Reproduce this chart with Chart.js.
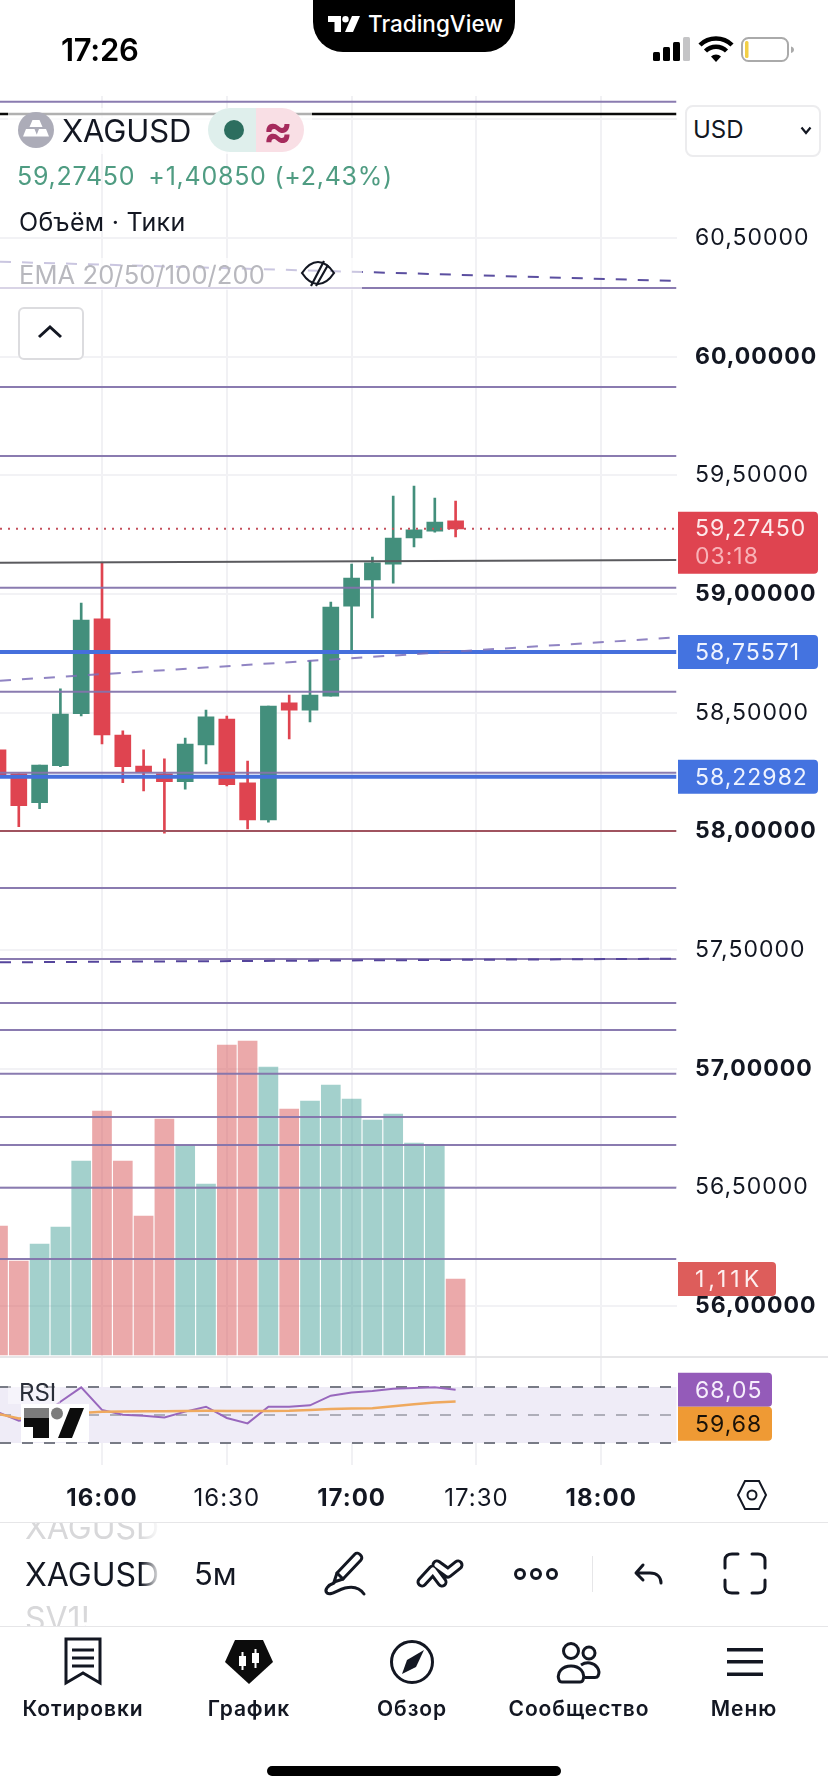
<!DOCTYPE html>
<html lang="ru">
<head>
<meta charset="utf-8">
<title>XAGUSD 5м</title>
<script src="https://cdn.jsdelivr.net/npm/chart.js@4"></script>
<style>
  html,body{margin:0;padding:0;background:#fff;width:828px;height:1792px;overflow:hidden;font-family:Inter,"Noto Sans",sans-serif;color:#131722}
  #wrap{position:relative;width:828px;height:1792px;overflow:hidden}
  canvas{position:absolute;left:0;top:0}
  .t{position:absolute;white-space:nowrap;line-height:1}
  .c{transform:translateX(-50%)}
  .box{position:absolute}
  svg{position:absolute;overflow:visible}
  .tab{font-size:21px;font-weight:600;letter-spacing:.9px;top:1698px;color:#131722}
</style>
</head>
<body>
<div id="wrap">
  <canvas id="chart" width="828" height="1792"></canvas>

  <!-- status bar -->
  <div class="t" style="left:61px;top:34px;font-size:31px;font-weight:600;letter-spacing:-.3px;color:#000">17:26</div>
  <div class="box" style="left:313px;top:-20px;width:202px;height:72px;background:#000;border-radius:0 0 30px 30px"></div>
  <svg style="left:328px;top:16px" width="32" height="16" viewBox="0 0 32 16">
    <path d="M0 0h13v16H6.5V6H0z" fill="#fff"/><circle cx="17.5" cy="3.2" r="3.2" fill="#fff"/><path d="M24 0h8l-7 16h-8z" fill="#fff"/>
  </svg>
  <div class="t" style="left:368px;top:13px;font-size:22.5px;font-weight:500;color:#fff">TradingView</div>
  <svg style="left:653px;top:37px" width="142" height="26" viewBox="0 0 142 26">
    <rect x="0" y="15" width="7" height="9" rx="1.5" fill="#000"/>
    <rect x="10" y="10" width="7" height="14" rx="1.5" fill="#000"/>
    <rect x="20" y="5" width="7" height="19" rx="1.5" fill="#000"/>
    <rect x="30" y="0" width="7" height="24" rx="1.5" fill="#c4c4c6"/>
    <path d="M47 8a23 23 0 0 1 32 0" fill="none" stroke="#000" stroke-width="4.5"/>
    <path d="M52.500 14a15 15 0 0 1 21 0" fill="none" stroke="#000" stroke-width="4.500"/>
    <path d="M58 19.500a7 7 0 0 1 10 0L63 25z" fill="#000"/>
    <rect x="89" y="1" width="46" height="23" rx="6.500" fill="#fff" stroke="#aaa" stroke-width="2"/>
    <rect x="92" y="4" width="3.500" height="17" rx="1.500" fill="#f2cf47"/>
    <path d="M138 9.500c2 .6 3 1.800 3 3.200s-1 2.600-3 3.200z" fill="#aaa"/>
  </svg>

  <!-- symbol legend over the price pane -->
  <div class="box" style="left:8px;top:108px;width:304px;height:46px;background:rgba(255,255,255,.68)"></div>
  <svg style="left:18px;top:112px" width="36" height="36" viewBox="0 0 36 36">
    <circle cx="18" cy="18" r="18" fill="#acacb8"/>
    <path d="M14.500 8h7l3 7h-13zM8 17h8.500l3 7.500H5zM21 17h7l3 7.500H18z" fill="#fff"/>
  </svg>
  <div class="t" style="left:62px;top:115px;font-size:31px;font-weight:400;letter-spacing:-.1px">XAGUSD</div>
  <div class="box" style="left:208px;top:108px;width:48px;height:44px;background:#dfefec;border-radius:22px 0 0 22px"></div>
  <div class="box" style="left:256px;top:108px;width:48px;height:44px;background:#f9dfe5;border-radius:0 22px 22px 0"></div>
  <div class="box" style="left:224px;top:120px;width:20px;height:20px;background:#2c6e5f;border-radius:50%"></div>
  <div class="t c" style="left:278px;top:108px;font-size:44px;font-weight:700;color:#a62a5c">≈</div>
  <div class="t" style="left:17px;top:164px;font-size:25px;letter-spacing:.75px;color:#4f9c82"><span>59,27450</span><span style="margin-left:13px">+1,40850 (+2,43%)</span></div>
  <div class="t" style="left:19px;top:210px;font-size:25px;letter-spacing:.3px">Объём · Тики</div>
  <div class="box" style="left:0;top:258px;width:362px;height:32px;background:rgba(255,255,255,.68)"></div>
  <div class="t" style="left:19px;top:262px;font-size:25.5px;letter-spacing:.1px;color:#b8b8be">EMA 20/50/100/200</div>
  <svg style="left:300px;top:258px" width="36" height="30" viewBox="0 0 36 30" fill="none" stroke="#131722" stroke-width="2.200">
    <path d="M2 15C8 6 14 4 18 4s10 2 16 11c-6 9-12 11-16 11S8 24 2 15z"/>
    <path d="M24 3L11 28M28 7L16 28"/>
  </svg>
  <div class="box" style="left:18px;top:307px;width:62px;height:49px;border:2px solid #dcdcdf;border-radius:6px;background:#fff"></div>
  <svg style="left:36px;top:324px" width="28" height="16" viewBox="0 0 28 16"><path d="M3 13L14 3l11 10" fill="none" stroke="#131722" stroke-width="3"/></svg>

  <!-- currency selector -->
  <div class="box" style="left:685px;top:105px;width:132px;height:48px;border:2px solid #ececee;border-radius:8px;background:#fff"></div>
  <div class="t" style="left:693px;top:118px;font-size:24px">USD</div>
  <svg style="left:800px;top:126px" width="12" height="9" viewBox="0 0 12 9"><path d="M1.500 1.500L6 7l4.500-5.500" fill="none" stroke="#131722" stroke-width="2.200"/></svg>

  <!-- pane divider, RSI caption and watermark -->
  <div class="box" style="left:0;top:1356px;width:828px;height:2px;background:#e6e6e8"></div>
  <div class="box" style="left:8px;top:1380px;width:52px;height:24px;background:rgba(255,255,255,.45)"></div>
  <div class="t" style="left:19px;top:1381px;font-size:24px;color:#2a2e39">RSI</div>
  <div class="box" style="left:21px;top:1404px;width:68px;height:38px;background:#fff"></div>
  <svg style="left:24px;top:1408px" width="60" height="30" viewBox="0 0 60 30">
    <rect x="0" y="0" width="25" height="10" fill="#7c7c7c"/>
    <path d="M0 10h25v20H9V19H0z" fill="#0c0c0c"/>
    <circle cx="33" cy="5.500" r="6" fill="#7c7c7c"/>
    <path d="M46 0h14L48 30H34z" fill="#0c0c0c"/>
  </svg>

  <!-- time axis settings -->
  <svg style="left:737px;top:1479px" width="30" height="32" viewBox="0 0 30 32" fill="none" stroke="#131722" stroke-width="2">
    <path d="M8 2h14l7 14-7 14H8L1 16z"/><circle cx="15" cy="16" r="4.500"/>
  </svg>
  <div class="box" style="left:0;top:1522px;width:828px;height:1px;background:#e6e6e8"></div>

  <!-- symbol toolbar -->
  <div class="box" style="left:25px;top:1523px;width:136px;height:103px;overflow:hidden;-webkit-mask-image:linear-gradient(to right,#000 85%,transparent);mask-image:linear-gradient(to right,#000 85%,transparent)">
    <div class="t" style="left:0;top:-11px;font-size:32px;color:#d8d8da">XAGUSD</div>
    <div class="t" style="left:0;top:36px;font-size:32px;color:#131722">XAGUSD</div>
    <div class="t" style="left:0;top:80px;font-size:32px;color:#d8d8da">SV1!</div>
  </div>
  <div class="t" style="left:194px;top:1558px;font-size:31px;color:#131722">5м</div>
  <svg style="left:290px;top:1530px" width="480" height="72" viewBox="0 0 480 72" fill="none" stroke="#131722" stroke-width="3" stroke-linecap="round" stroke-linejoin="round">
    <path d="M44 52L47 43 65 24C68 21 74 27 71 30L53 49Z"/>
    <path d="M47 43l6 6"/>
    <path d="M44 53C38 55 34 60 37 63 41 66 47 60 55 58 63 56 70 58 74 64"/>
    <g stroke-width="11"><path d="M132 52l11-12 9 12M147 35l11 8 10-8"/></g>
    <g stroke="#fff" stroke-width="5"><path d="M132 52l11-12 9 12M147 35l11 8 10-8"/></g>
    <circle cx="230" cy="44" r="4.500"/><circle cx="246" cy="44" r="4.500"/><circle cx="262" cy="44" r="4.500"/>
    <path d="M353 35l-7 8 7 7M347 43H360C367 43 371 47 371 53"/>
    <path d="M435 38V30C435 26 438 24 442 24H448M462 24H468C472 24 475 26 475 30V38M475 50V57C475 61 472 63 468 63H462M448 63H442C438 63 435 61 435 57V50"/>
  </svg>
  <div class="box" style="left:592px;top:1556px;width:1px;height:36px;background:#e6e6e8"></div>
  <div class="box" style="left:0;top:1626px;width:828px;height:1px;background:#e6e6e8"></div>

  <!-- tab bar -->
  <svg style="left:63px;top:1637px" width="40" height="48" viewBox="0 0 40 48" fill="none" stroke="#131722" stroke-width="3">
    <path d="M3 2h34v44L20 36 3 46z"/><path d="M9 13h22M9 21h22M9 29h22"/>
  </svg>
  <svg style="left:225px;top:1640px" width="48" height="44" viewBox="0 0 48 44">
    <path d="M10 0h28l10 22-24 22L0 22z" fill="#0c0c0c"/>
    <g fill="#fff"><rect x="14" y="16" width="7" height="10"/><rect x="16.500" y="12" width="2" height="18"/><rect x="27" y="13" width="7" height="10"/><rect x="29.500" y="9" width="2" height="19"/></g>
  </svg>
  <svg style="left:390px;top:1640px" width="44" height="44" viewBox="0 0 44 44">
    <circle cx="22" cy="22" r="20.500" fill="none" stroke="#131722" stroke-width="3"/>
    <path d="M34 10L26 27 12 34 17 20z" fill="#131722"/>
  </svg>
  <svg style="left:556px;top:1642px" width="46" height="42" viewBox="0 0 46 42" fill="none" stroke="#131722" stroke-width="3">
    <circle cx="15" cy="9" r="7.500"/><circle cx="33" cy="11" r="6"/>
    <path d="M3 38c-3-8 4-14 12-14s15 6 12 14c-.5 1.500-2 2-3 2H6c-1 0-2.500-.5-3-2z"/>
    <path d="M25 23c3-2 6-2.500 9-2 6 1 11 7 8 13-.5 1-1.500 1.500-3 1.500H29"/>
  </svg>
  <svg style="left:727px;top:1648px" width="36" height="28" viewBox="0 0 36 28" fill="#131722">
    <rect x="0" y="0" width="36" height="3.500"/><rect x="0" y="12" width="36" height="3.500"/><rect x="0" y="24.500" width="36" height="3.500"/>
  </svg>
  <div class="t tab c" style="left:83px">Котировки</div>
  <div class="t tab c" style="left:249px">График</div>
  <div class="t tab c" style="left:412px">Обзор</div>
  <div class="t tab c" style="left:579px">Сообщество</div>
  <div class="t tab c" style="left:744px">Меню</div>
  <div class="box" style="left:267px;top:1766px;width:294px;height:10px;background:#000;border-radius:5px"></div>
</div>

<script>
// Five-minute session, bar open times
const barTimes = ['15:35','15:40','15:45','15:50','15:55','16:00','16:05','16:10','16:15','16:20','16:25','16:30','16:35','16:40','16:45','16:50','16:55','17:00','17:05','17:10','17:15','17:20','17:25'];
const opens  = [58.343,58.242,58.121,58.277,58.496,58.895,58.406,58.275,58.242,58.209,58.364,58.473,58.204,58.048,58.541,58.511,58.570,58.949,59.059,59.126,59.236,59.265,59.308];
const closes = [58.237,58.108,58.279,58.494,58.890,58.406,58.272,58.250,58.209,58.368,58.482,58.197,58.048,58.528,58.511,58.574,58.945,59.067,59.131,59.236,59.270,59.303,59.2745];
const highs  = [58.343,58.242,58.279,58.600,58.962,59.132,58.423,58.343,58.305,58.393,58.511,58.486,58.296,58.528,58.574,58.718,58.966,59.126,59.156,59.413,59.455,59.404,59.392];
const lows   = [58.237,58.020,58.095,58.272,58.486,58.368,58.205,58.170,57.992,58.178,58.284,58.191,58.010,58.039,58.389,58.461,58.570,58.756,58.899,59.046,59.198,59.261,59.240];

// Tick volume, thousands
const volumes = [1.884,1.373,1.621,1.869,2.833,3.564,2.833,2.030,3.447,3.067,2.497,4.528,4.586,4.206,3.593,3.710,3.943,3.739,3.432,3.520,3.096,3.077,1.11];
const volumeUp = [false,false,true,true,true,false,false,false,false,true,true,false,false,true,false,true,true,true,true,true,true,true,false];

// RSI and its moving average
const rsi   = [52,46,48,59.5,69.7,53.6,50.2,49.5,48.3,52.4,55.9,47.9,44.0,55.9,55.9,56.9,63.8,66.0,67.1,68.8,69.3,69.8,68.05];
const rsiMa = [50.8,47.5,48.5,50,51.5,52.4,52.5,52.6,52.7,52.8,53.0,52.9,52.8,52.8,53.0,53.6,54.2,54.6,54.8,56.2,57.7,58.9,59.68];
const rsiLevels = [70,50,30];

// Drawn levels on the price pane
const purpleLevels = [61.0743,60.2893,59.8722,59.5815,59.0265,58.5883,58.2466,57.7612,57.4621,57.2767,57.1629,56.9788,56.7963,56.6786,56.4985,56.1981];
const blackLevel = 61.0225;
const redLevel = 58.0014;
const blueLevels = [58.75571,58.22982];
const greySlope = [59.1319,59.1432];
const emaUpper = [60.4001,60.3188];
const emaMiddle = [58.6347,58.8170];
const emaLower = [57.4481,57.4633];
const lastPrice = 59.2745;
const countdown = '03:18';

// Visible window of the scales
const timeMin = 935.48, timeMax = 1098.1;
const priceMin = 55.330, priceMax = 61.0983;
const volMin = -1.6065, volMax = 18.388;
const rsiMin = 14.29, rsiMax = 992;

const UI_FONT = 'Inter, "Noto Sans", sans-serif';
const UP = '#438f7c', DOWN = '#df4450';

const toMinutes = s => { const [h, m] = s.split(':').map(Number); return h * 60 + m; };
const span = (a, b) => [{x: timeMin, y: a}, {x: timeMax, y: b}];
const commaFixed = (v, d) => v.toFixed(d).replace('.', ',');

const levelLine = (data, color, width, order, dash) => ({
  type: 'line', data, yAxisID: 'yPrice', borderColor: color, borderWidth: width,
  borderDash: dash || [], pointRadius: 0, order, tension: 0
});

const datasets = [
  {
    type: 'bar', yAxisID: 'yVol', order: 50, grouped: false, barThickness: 19,
    data: barTimes.map((t, i) => ({x: toMinutes(t), y: volumes[i]})),
    backgroundColor: volumeUp.map(u => u ? 'rgba(71,161,153,.5)' : 'rgba(215,83,85,.5)')
  },
  {
    type: 'bar', yAxisID: 'yPrice', order: 41, grouped: false, barThickness: 2,
    data: barTimes.map((t, i) => ({x: toMinutes(t), y: [lows[i], highs[i]]})),
    backgroundColor: closes.map((c, i) => c >= opens[i] ? UP : DOWN)
  },
  {
    type: 'bar', yAxisID: 'yPrice', order: 40, grouped: false, barThickness: 16,
    data: barTimes.map((t, i) => ({x: toMinutes(t), y: [opens[i], closes[i]]})),
    backgroundColor: closes.map((c, i) => c >= opens[i] ? UP : DOWN)
  },
  ...purpleLevels.map(p => levelLine(span(p, p), 'rgba(132,116,172,.95)', 2, 12)),
  levelLine(span(blackLevel, blackLevel), '#0a0a0a', 2.5, 11),
  levelLine(span(redLevel, redLevel), '#a0535f', 2, 11),
  levelLine(span(greySlope[0], greySlope[1]), '#5a5a5e', 2, 11),
  ...blueLevels.map(p => levelLine(span(p, p), '#456fdc', 4, 10)),
  levelLine(span(emaUpper[0], emaUpper[1]), '#5b4fa0', 2, 9, [11, 11]),
  levelLine(span(emaMiddle[0], emaMiddle[1]), 'rgba(125,110,185,.85)', 2, 9, [11, 11]),
  levelLine(span(emaLower[0], emaLower[1]), '#55459c', 2, 9, [11, 11]),
  levelLine(span(lastPrice, lastPrice), '#c4505c', 2, 8, [2, 6]),
  {
    type: 'line', yAxisID: 'yRsi', order: 6, borderColor: '#efa95e', borderWidth: 2.5, pointRadius: 0, tension: 0,
    data: barTimes.map((t, i) => ({x: toMinutes(t), y: rsiMa[i]}))
  },
  {
    type: 'line', yAxisID: 'yRsi', order: 7, borderColor: '#9867bd', borderWidth: 2, pointRadius: 0, tension: 0,
    data: barTimes.map((t, i) => ({x: toMinutes(t), y: rsi[i]}))
  },
  ...rsiLevels.map((lvl, i) => ({
    type: 'line', yAxisID: 'yRsi', order: 20, borderWidth: 2, pointRadius: 0, borderDash: [11, 11],
    borderColor: i === 1 ? 'rgba(120,123,134,.55)' : '#787b86',
    data: span(lvl, lvl)
  }))
];

// Soft band between the RSI bounds
const rsiBand = {
  id: 'rsiBand',
  beforeDatasetsDraw(chart) {
    const {ctx, chartArea: a, scales} = chart;
    const top = scales.yRsi.getPixelForValue(rsiLevels[0]);
    const bottom = scales.yRsi.getPixelForValue(rsiLevels[2]);
    ctx.save();
    ctx.fillStyle = '#efecf7';
    ctx.fillRect(a.left, top, a.right - a.left, bottom - top);
    ctx.restore();
  }
};

// Axis text is slightly tracked out
const axisTracking = {
  id: 'axisTracking',
  beforeDraw(chart) { chart.ctx.letterSpacing = '1px'; }
};

// Value tags on the right edge of each pane
const valueTags = {
  id: 'valueTags',
  afterDraw(chart) {
    const {ctx, scales} = chart;
    const left = 678, textX = 695, h = 34;
    const tag = (cy, w, bg, fg, text) => {
      ctx.fillStyle = bg;
      ctx.beginPath();
      ctx.roundRect(left, cy - h / 2, w, h, [0, 4, 4, 0]);
      ctx.fill();
      ctx.fillStyle = fg;
      ctx.fillText(text, textX, cy + 1);
    };
    ctx.save();
    ctx.font = '23px ' + UI_FONT;
    ctx.textAlign = 'left';
    ctx.textBaseline = 'middle';
    ctx.letterSpacing = '1px';

    // last price with the bar countdown underneath
    const py = scales.yPrice.getPixelForValue(lastPrice);
    ctx.fillStyle = '#df4450';
    ctx.beginPath();
    ctx.roundRect(left, py - 17, 140, 62, [0, 4, 4, 0]);
    ctx.fill();
    ctx.fillStyle = '#fde9ea';
    ctx.fillText(commaFixed(lastPrice, 5), textX, py);
    ctx.fillStyle = '#f8b3b8';
    ctx.fillText(countdown, textX, py + 28);

    blueLevels.forEach(p => tag(scales.yPrice.getPixelForValue(p), 140, '#4473e0', '#eef3ff', commaFixed(p, 5)));

    // the volume figure is set wider than the prices
    const vol = volumes[volumes.length - 1];
    ctx.letterSpacing = '4px';
    tag(scales.yVol.getPixelForValue(vol), 98, '#dd5d5b', '#fdeeee', commaFixed(vol, 2) + 'K');
    ctx.letterSpacing = '1px';

    const r = rsi[rsi.length - 1], m = rsiMa[rsiMa.length - 1];
    const ry = scales.yRsi.getPixelForValue(r);
    const my = Math.max(scales.yRsi.getPixelForValue(m), ry + h);
    tag(ry, 94, '#945bb9', '#f6eefc', commaFixed(r, 2));
    tag(my, 94, '#ef9a34', '#1a1208', commaFixed(m, 2));
    ctx.restore();
  }
};

const tickWeight = (ctx, isBold) => (ctx.tick && isBold(ctx.tick.value)) ? '700' : '400';

new Chart(document.getElementById('chart'), {
  type: 'bar',
  data: {datasets},
  plugins: [rsiBand, axisTracking, valueTags],
  options: {
    responsive: false,
    animation: false,
    devicePixelRatio: 1,
    layout: {padding: {top: 96, bottom: 270, left: 0, right: 0}},
    plugins: {legend: {display: false}, tooltip: {enabled: false}, title: {display: false}},
    scales: {
      x: {
        type: 'linear', offset: false, min: timeMin, max: timeMax, position: 'bottom',
        afterFit(s) { s.height = 57; },
        grid: {color: '#f1f1f4', lineWidth: 2, drawTicks: false, offset: false},
        border: {display: false},
        ticks: {
          stepSize: 30, includeBounds: false, maxRotation: 0, autoSkip: false, padding: 19, color: '#131722',
          font: ctx => ({family: UI_FONT, size: 24, weight: tickWeight(ctx, v => v % 60 === 0)}),
          callback: v => Math.floor(v / 60) + ':' + String(v % 60).padStart(2, '0')
        }
      },
      yPrice: {
        type: 'linear', axis: 'y', min: priceMin, max: priceMax, position: 'right',
        afterFit(s) { s.width = 151.5; },
        afterBuildTicks(s) { s.ticks = s.ticks.filter(t => t.value >= 56); },
        grid: {color: '#f2f2f5', lineWidth: 2, drawTicks: false},
        border: {display: false},
        ticks: {
          stepSize: 0.5, includeBounds: false, autoSkip: false, padding: 18.5, color: '#131722',
          font: ctx => ({family: UI_FONT, size: 23, weight: tickWeight(ctx, Number.isInteger)}),
          callback: v => v > 60.9 ? '' : commaFixed(v, 5)
        }
      },
      yVol: {type: 'linear', axis: 'y', position: 'right', display: false, min: volMin, max: volMax},
      yRsi: {type: 'linear', axis: 'y', position: 'right', display: false, min: rsiMin, max: rsiMax}
    }
  }
});
</script>
</body>
</html>
